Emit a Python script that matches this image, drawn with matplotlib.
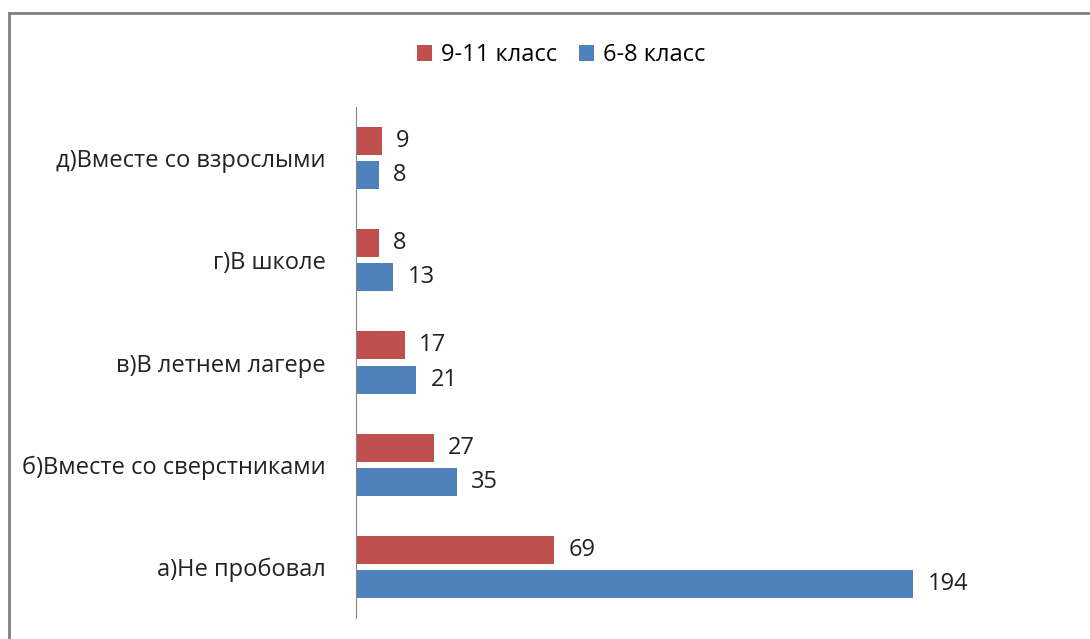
import matplotlib.pyplot as plt
from matplotlib.lines import Line2D
import numpy as np

plt.rcParams['font.family'] = ['Open Sans', 'DejaVu Sans']

# Data
categories = ['а)Не пробовал', 'б)Вместе со сверстниками', 'в)В летнем лагере',
              'г)В школе', 'д)Вместе со взрослыми']
senior = [69, 27, 17, 8, 9]      # 9-11 класс
junior = [194, 35, 21, 13, 8]    # 6-8 класс

red = '#C0504D'
blue = '#4F81BD'
fs = 17

fig = plt.figure(figsize=(10.9, 6.39), dpi=100)
ax = fig.add_axes([356 / 1090, 21 / 639, 718 / 1090, 511 / 639])

y = np.arange(len(categories))
h = 0.275
off = 0.167
ax.barh(y + off, senior, height=h, color=red, label='9-11 класс')
ax.barh(y - off, junior, height=h, color=blue, label='6-8 класс')

for yi, v in zip(y, senior):
    ax.text(v + 5, yi + off, str(v), va='center', ha='left', fontsize=fs, color='#222222')
for yi, v in zip(y, junior):
    ax.text(v + 5, yi - off, str(v), va='center', ha='left', fontsize=fs, color='#222222')

ax.set_xlim(0, 250)
ax.set_ylim(-0.5, 4.5)
ax.set_yticks(y)
ax.set_yticklabels(categories, fontsize=fs, color='#222222')
ax.tick_params(axis='y', length=0, pad=22)
ax.set_xticks([])
for s in ['top', 'right', 'bottom']:
    ax.spines[s].set_visible(False)
ax.spines['left'].set_color('#868686')

fig.legend(loc='center', bbox_to_anchor=(561 / 1090, 1 - 55 / 639), ncol=2,
           frameon=False, fontsize=fs, handlelength=0.65, handleheight=0.65,
           handletextpad=0.35, columnspacing=0.95)

# outer chart frame
fig.add_artist(Line2D([9 / 1090, 9 / 1090], [0, 1 - 13 / 639], color='#808080', lw=2))
fig.add_artist(Line2D([9 / 1090, 1], [1 - 13 / 639, 1 - 13 / 639], color='#808080', lw=2))

fig.savefig('out.png', dpi=100)
